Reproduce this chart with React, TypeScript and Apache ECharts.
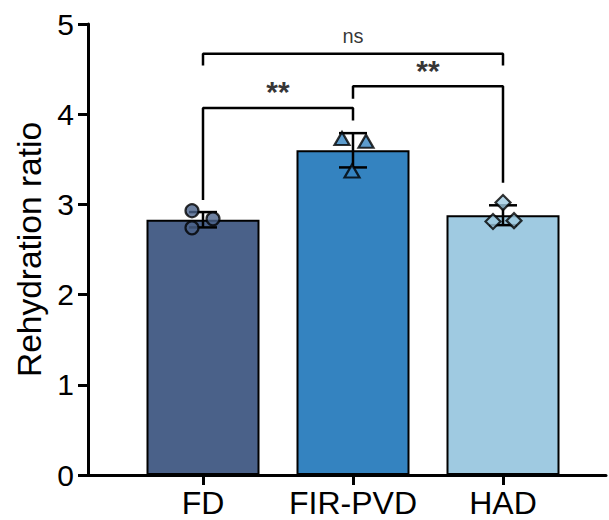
import React, { useEffect, useRef } from "react";
import * as echarts from "echarts";

const categories = ["FD", "FIR-PVD", "HAD"];
const barColors = ["#4a6189", "#3483c0", "#9fcae1"];
const means = [2.83, 3.6, 2.88];
const sds = [0.085, 0.19, 0.11];
const fdPoints = [2.93, 2.84, 2.74];
const firPoints = [3.73, 3.7, 3.37];
const hadPoints = [3.02, 2.81, 2.82];
const yTicks = [0, 1, 2, 3, 4, 5];
// brackets: [fromCat, toCat, leftLegBottom, height, rightLegBottom, label, labelY]
const brackets: [number, number, number, number, number, string, number][] = [
  [0, 1, 3.05, 4.07, 3.93, "**", 4.25],
  [1, 2, 4.17, 4.31, 3.24, "**", 4.48],
  [0, 2, 4.54, 4.67, 4.54, "ns", 4.87],
];

const FONT = "'Liberation Sans', Arial, Helvetica, sans-serif";

export default function App() {
  const ref = useRef<HTMLDivElement>(null);
  useEffect(() => {
    if (!ref.current) return;
    const chart = echarts.init(ref.current, null, { renderer: "svg" });
    const pos = categories.map((_, i) => i + 1);
    const jitter = [
      [-11, 10, -11],
      [-11, 13, -1],
      [0, -10, 11],
    ];
    const groups = [fdPoints, firPoints, hadPoints];
    const symbols = ["circle", "triangle", "diamond"];
    const symbolSizes: any[] = [13, [15, 13], [15, 15]];

    const series: any[] = [
      {
        type: "bar",
        barWidth: 113,
        z: 2,
        data: means.map((m, i) => ({
          value: [pos[i], m],
          itemStyle: { color: barColors[i], borderColor: "#000", borderWidth: 2 },
        })),
      },
      {
        type: "custom",
        z: 3,
        data: means.map((m, i) => [pos[i], m - sds[i], m + sds[i]]),
        renderItem: (params: any, api: any) => {
          const x = api.value(0);
          const lo = api.coord([x, api.value(1)]);
          const hi = api.coord([x, api.value(2)]);
          const cw = 14;
          const st = { stroke: "#000", lineWidth: 2.5 };
          return {
            type: "group",
            children: [
              { type: "line", shape: { x1: lo[0], y1: lo[1], x2: hi[0], y2: hi[1] }, style: st },
              { type: "line", shape: { x1: hi[0] - cw, y1: hi[1], x2: hi[0] + cw, y2: hi[1] }, style: st },
              { type: "line", shape: { x1: lo[0] - cw, y1: lo[1], x2: lo[0] + cw, y2: lo[1] }, style: st },
            ],
          };
        },
      },
      ...groups.map((g, gi) => ({
        type: "scatter",
        z: 4,
        symbol: symbols[gi],
        symbolSize: symbolSizes[gi],
        itemStyle: { color: barColors[gi], borderColor: "#000", borderWidth: 2.2 },
        data: g.map((v, k) => ({ value: [pos[gi], v], symbolOffset: [jitter[gi][k], 0] })),
      })),
      ...brackets.map((b) => ({
        type: "line",
        z: 5,
        symbol: "none",
        lineStyle: { color: "#000", width: 2.5 },
        data: [
          [pos[b[0]], b[2]],
          [pos[b[0]], b[3]],
          [pos[b[1]], b[3]],
          [pos[b[1]], b[4]],
        ],
      })),
      {
        type: "scatter",
        z: 6,
        symbolSize: 0,
        data: brackets.map((b) => ({
          value: [(pos[b[0]] + pos[b[1]]) / 2, b[6]],
          label: {
            show: true,
            position: "inside",
            formatter: b[5],
            color: "#000",
            fontFamily: FONT,
            fontSize: b[5] === "ns" ? 20 : 30,
            fontWeight: b[5] === "ns" ? "normal" : "bold",
          },
        })),
      },
    ];

    chart.setOption({
      animation: false,
      backgroundColor: "#fff",
      grid: { left: 88, right: 3, top: 24, bottom: 45, containLabel: false },
      xAxis: {
        type: "value",
        min: 1 - 115 / 150,
        max: 1 - 115 / 150 + 518 / 150,
        splitLine: { show: false },
        axisLine: { show: true, lineStyle: { color: "#000", width: 3 } },
        axisTick: { show: true, customValues: pos, length: 10, lineStyle: { color: "#000", width: 3 } },
        axisLabel: {
          show: true,
          customValues: pos,
          formatter: (v: number) => categories[Math.round(v) - 1] ?? "",
          color: "#000",
          fontFamily: FONT,
          fontSize: 32,
          lineHeight: 30,
          margin: 13,
        },
      },
      yAxis: {
        type: "value",
        min: 0,
        max: 5,
        interval: 1,
        splitLine: { show: false },
        axisLine: { show: true, lineStyle: { color: "#000", width: 3 } },
        axisTick: { show: true, length: 10, lineStyle: { color: "#000", width: 3 } },
        axisLabel: {
          color: "#000",
          fontFamily: FONT,
          fontSize: 30,
          margin: 14,
          formatter: (v: number) => (yTicks.includes(v) ? String(v) : ""),
        },
        name: "Rehydration ratio",
        nameLocation: "middle",
        nameGap: 42,
        nameTextStyle: { color: "#000", fontFamily: FONT, fontSize: 33.5 },
      },
      series,
    });
    return () => chart.dispose();
  }, []);
  return (
    <div
      ref={ref}
      style={{ position: "fixed", left: 0, top: 0, width: 609, height: 520, background: "#fff" }}
    />
  );
}
